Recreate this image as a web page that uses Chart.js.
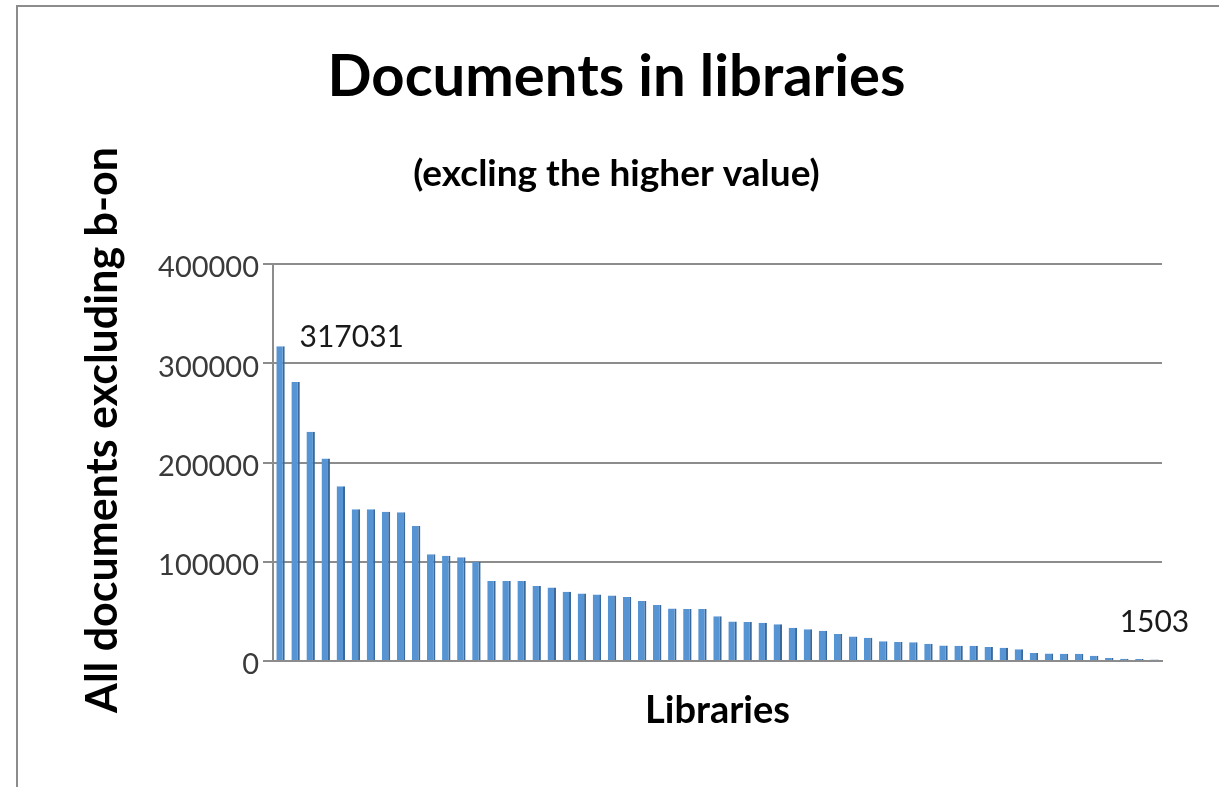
<!DOCTYPE html>
<html>
<head>
<meta charset="utf-8">
<title>Documents in libraries</title>
<script src="https://cdn.jsdelivr.net/npm/chart.js@4.4.1/dist/chart.umd.min.js"></script>
<style>
  html, body { margin: 0; padding: 0; background: #fff; }
  #wrap { position: relative; width: 1219px; height: 787px; overflow: hidden; }
  #frame {
    position: absolute; left: 16px; top: 5px; width: 1300px; height: 900px;
    border-left: 2px solid #8c8c8c; border-top: 2px solid #8c8c8c;
    pointer-events: none;
  }
</style>
</head>
<body>
<div id="wrap">
  <canvas id="chart" width="1219" height="787"></canvas>
  <div id="frame"></div>
</div>
<script>
// Libraries, sorted by number of documents (the source shows no names on the axis)
const libraries = [
  "L1", "L2", "L3", "L4", "L5", "L6", "L7", "L8", "L9", "L10",
  "L11", "L12", "L13", "L14", "L15", "L16", "L17", "L18", "L19", "L20",
  "L21", "L22", "L23", "L24", "L25", "L26", "L27", "L28", "L29", "L30",
  "L31", "L32", "L33", "L34", "L35", "L36", "L37", "L38", "L39", "L40",
  "L41", "L42", "L43", "L44", "L45", "L46", "L47", "L48", "L49", "L50",
  "L51", "L52", "L53", "L54", "L55", "L56", "L57", "L58", "L59"
];

// All documents excluding b-on
const documents = [
  317031, 281000, 231000, 204000, 176000, 153000, 153000, 150500, 150000, 136000,
  107500, 106000, 104500, 100000, 80500, 80500, 80500, 75500, 74000, 69800,
  68000, 67000, 66000, 64600, 60400, 56300, 53000, 52500, 52300, 45000,
  39800, 39300, 38500, 37000, 33500, 31900, 30500, 27200, 24600, 23300,
  19900, 19200, 18800, 17500, 15600, 15400, 15300, 14000, 13300, 11800,
  8000, 7600, 7400, 7300, 5200, 3000, 2200, 2000, 1503
];

// Only the first and last bar carry a value label
const labelledBars = [0, documents.length - 1];

const yTicks = [0, 100000, 200000, 300000, 400000];

const TITLE_FONT = "Lato, 'Open Sans', sans-serif";
const TICK_FONT = "Lato, 'Open Sans', sans-serif";
const GRID_COLOR = "#8c8c8c";

// Draws the rotated y title and the two value labels
const extraText = {
    id: "extraText",
    afterDraw(chart) {
        const ctx = chart.ctx;

        ctx.save();
        ctx.translate(103, 430);
        ctx.rotate(-Math.PI / 2);
        ctx.font = `bold 43px ${TITLE_FONT}`;
        ctx.fillStyle = "#000";
        ctx.textAlign = "center";
        ctx.textBaseline = "middle";
        ctx.fillText("All documents excluding b-on", 0, 0);
        ctx.restore();

        const meta = chart.getDatasetMeta(0);
        ctx.save();
        ctx.font = `30px ${TICK_FONT}`;
        ctx.fillStyle = "#1a1a1a";
        ctx.textBaseline = "middle";
        labelledBars.forEach((i, n) => {
            const bar = meta.data[i];
            const text = String(documents[i]);
            if (n === 0) {
                ctx.textAlign = "left";
                ctx.fillText(text, bar.x + 19, bar.y - 9);
            } else {
                ctx.textAlign = "center";
                ctx.fillText(text, bar.x, bar.y - 37);
            }
        });
        ctx.restore();
    }
};

const canvas = document.getElementById("chart");

new Chart(canvas, {
    type: "bar",
    data: {
        labels: libraries,
        datasets: [{
            label: "All documents excluding b-on",
            data: documents,
            backgroundColor: "#5694d3",
            borderColor: "#3a689a",
            borderWidth: { left: 0, right: 2, top: 0, bottom: 0 },
            borderSkipped: false,
            barPercentage: 0.56,
            categoryPercentage: 1.0
        }]
    },
    options: {
        responsive: false,
        animation: false,
        devicePixelRatio: 1,
        layout: {
            padding: { left: 71, right: 57, top: 0, bottom: 0 }
        },
        plugins: {
            legend: { display: false },
            tooltip: { enabled: false },
            title: {
                display: true,
                text: "Documents in libraries",
                color: "#000",
                font: { family: TITLE_FONT, size: 58, weight: "bold", lineHeight: 1.2 },
                padding: { top: 42, bottom: 0 }
            },
            subtitle: {
                display: true,
                text: "(excling the higher value)",
                color: "#000",
                font: { family: TITLE_FONT, size: 37, weight: "bold", lineHeight: 1.2 },
                padding: { top: 40, bottom: 68 }
            }
        },
        scales: {
            x: {
                type: "category",
                offset: true,
                ticks: { display: false },
                grid: { display: false },
                border: { display: true, color: GRID_COLOR, width: 2 },
                title: {
                    display: true,
                    text: "Libraries",
                    color: "#000",
                    font: { family: TITLE_FONT, size: 38, weight: "bold", lineHeight: 1.2 },
                    padding: { top: 0, bottom: 53 }
                },
                afterFit(scale) { scale.height = 126; }
            },
            y: {
                min: 0,
                max: 400000,
                afterBuildTicks(scale) {
                    scale.ticks = yTicks.map(v => ({ value: v }));
                },
                ticks: {
                    color: "#3a3a3a",
                    font: { family: TICK_FONT, size: 29 },
                    padding: 4,
                    labelOffset: 4,
                    callback: value => String(value)
                },
                grid: {
                    color: GRID_COLOR,
                    lineWidth: 2,
                    drawTicks: true,
                    tickLength: 10,
                    tickColor: GRID_COLOR
                },
                border: { display: true, color: GRID_COLOR, width: 2 },
                afterFit(scale) { scale.width = 202; }
            }
        }
    },
    plugins: [extraText]
});
</script>
</body>
</html>
